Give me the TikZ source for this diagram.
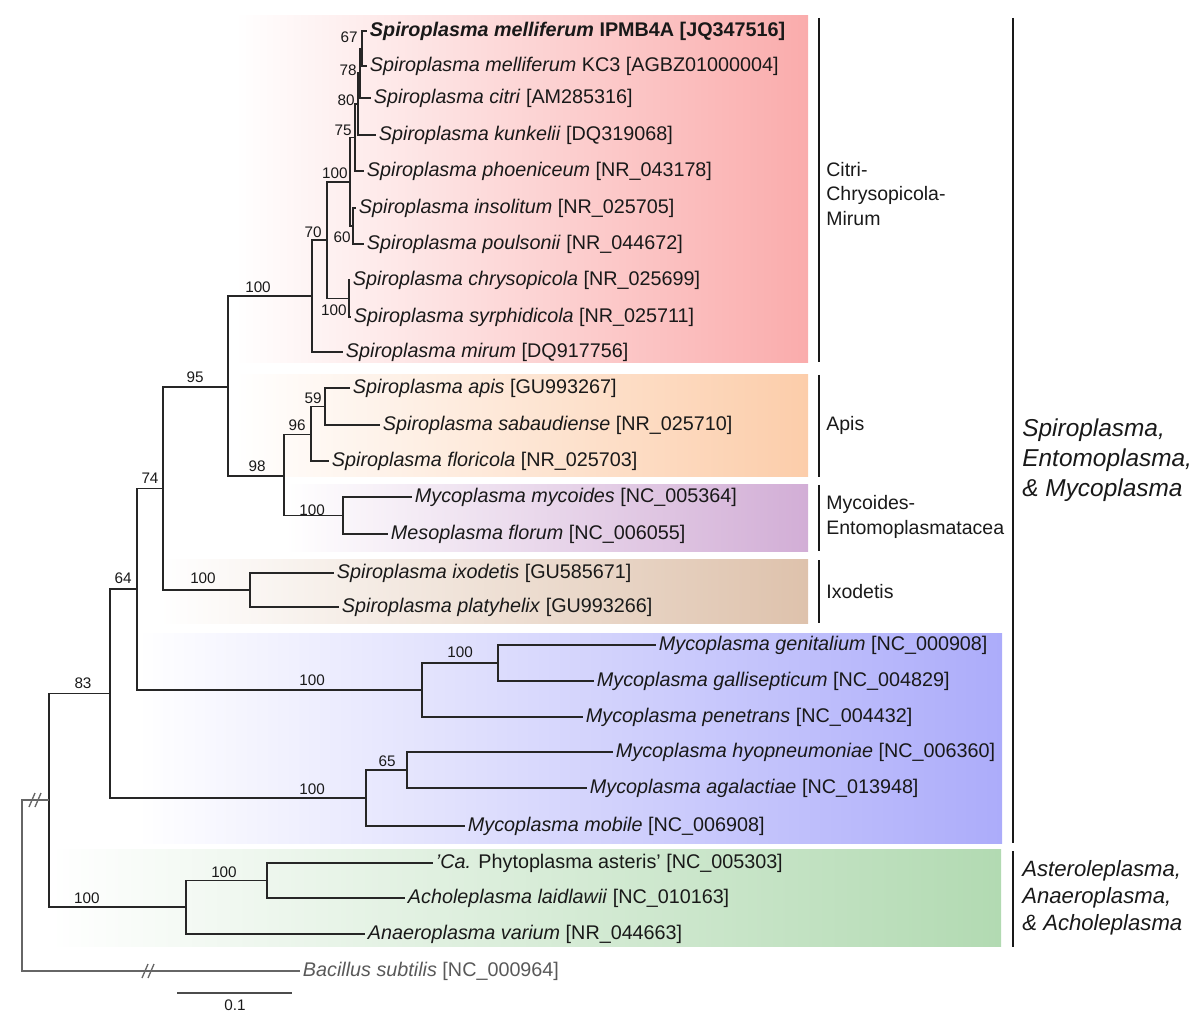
\documentclass[tikz,border=0pt]{standalone}
\usepackage{fontspec}
\setmainfont{Liberation Sans}
\usetikzlibrary{positioning}

\definecolor{citribox}{RGB}{250,172,172}
\definecolor{apisbox}{RGB}{252,205,170}
\definecolor{mycobox}{RGB}{210,174,214}
\definecolor{ixodbox}{RGB}{222,194,172}
\definecolor{mollbox}{RGB}{172,172,250}
\definecolor{acholbox}{RGB}{178,218,178}

\begin{document}
\begin{tikzpicture}[x=0.02cm, y=-0.02cm,
    branch/.style={draw=black!85, line width=0.75pt},
    rootline/.style={draw=black!60, line width=0.75pt},
    taxon/.style={anchor=west, inner sep=1.5pt, text=black!90, font=\fontsize{11.25}{13}\selectfont},
    boot/.style={inner sep=0pt, text=black!90, font=\fontsize{8.7}{10}\selectfont},
    clade/.style={anchor=west, align=left, inner sep=0pt, text=black!90, font=\fontsize{11.1}{14}\selectfont},
    group/.style={anchor=west, align=left, inner sep=0pt, text=black!90, font=\fontsize{13.9}{17}\selectfont\itshape},
    bar/.style={draw=black!90, line width=1.1pt}]

    \useasboundingbox (0,0) rectangle (1200,1033);

    % SHADED CLADE BOXES
    \shade[left color=white, right color=citribox] (235,16) rectangle (808,363);
    \shade[left color=white, right color=apisbox] (235,375) rectangle (808,477);
    \shade[left color=white, right color=mycobox] (285,485) rectangle (808,551);
    \shade[left color=white, right color=ixodbox] (160,559) rectangle (808,623);
    \shade[left color=white, right color=mollbox] (137,633) rectangle (1002,843);
    \shade[left color=white, right color=acholbox] (50,849) rectangle (1001,946);

    % Clade bars
    \draw[bar] (819,18) -- (819,362);
    \draw[bar] (819,375) -- (819,477);
    \draw[bar] (819,485) -- (819,551);
    \draw[bar] (819,560) -- (819,623);
    \draw[bar, line width=1.4pt] (1013,18) -- (1013,843);
    \draw[bar, line width=1.4pt] (1013,851) -- (1013,947);

    \node[clade] (citrilab) at (826,194) {Citri-\\Chrysopicola-\\Mirum};
    \node[clade] (apislab) at (826,425) {Apis};
    \node[clade] (mycolab) at (826,517) {Mycoides-\\Entomoplasmatacea};
    \node[clade] (ixodlab) at (826,592) {Ixodetis};
    \node[group] (spirlab) at (1022,460) {Spiroplasma,\\Entomoplasma,\\\& Mycoplasma};
    \node[group, font=\fontsize{12.6}{15.3}\selectfont\itshape] (acholab) at (1022,898) {Asteroleplasma,\\Anaeroplasma,\\\& Acholeplasma};

    % TAXA
    \node[taxon] (mell) at (367,31) {\textbf{\textit{Spiroplasma melliferum} IPMB4A [JQ347516]}};
    \node[taxon] (kc3) at (367,66) {\textit{Spiroplasma melliferum} KC3 [AGBZ01000004]};
    \node[taxon] (citri) at (371,98) {\textit{Spiroplasma citri} [AM285316]};
    \node[taxon] (kunk) at (376,135) {\textit{Spiroplasma kunkelii} [DQ319068]};
    \node[taxon] (phoe) at (364,171) {\textit{Spiroplasma phoeniceum} [NR\_043178]};
    \node[taxon] (inso) at (356,208) {\textit{Spiroplasma insolitum} [NR\_025705]};
    \node[taxon] (poul) at (364,244) {\textit{Spiroplasma poulsonii} [NR\_044672]};
    \node[taxon] (chry) at (350,280) {\textit{Spiroplasma chrysopicola} [NR\_025699]};
    \node[taxon] (syrp) at (351,317) {\textit{Spiroplasma syrphidicola} [NR\_025711]};
    \node[taxon] (miru) at (343,352) {\textit{Spiroplasma mirum} [DQ917756]};
    \node[taxon] (apis) at (350,388) {\textit{Spiroplasma apis} [GU993267]};
    \node[taxon] (saba) at (380,425) {\textit{Spiroplasma sabaudiense} [NR\_025710]};
    \node[taxon] (flor) at (329,461) {\textit{Spiroplasma floricola} [NR\_025703]};
    \node[taxon] (mmyc) at (412,497) {\textit{Mycoplasma mycoides} [NC\_005364]};
    \node[taxon] (mflo) at (388,534) {\textit{Mesoplasma florum} [NC\_006055]};
    \node[taxon] (ixod) at (334,573) {\textit{Spiroplasma ixodetis} [GU585671]};
    \node[taxon] (plat) at (339,607) {\textit{Spiroplasma platyhelix} [GU993266]};
    \node[taxon] (geni) at (656,645) {\textit{Mycoplasma genitalium} [NC\_000908]};
    \node[taxon] (gall) at (594,681) {\textit{Mycoplasma gallisepticum} [NC\_004829]};
    \node[taxon] (pene) at (583,717) {\textit{Mycoplasma penetrans} [NC\_004432]};
    \node[taxon] (hyop) at (613,752) {\textit{Mycoplasma hyopneumoniae} [NC\_006360]};
    \node[taxon] (agal) at (587,788) {\textit{Mycoplasma agalactiae} [NC\_013948]};
    \node[taxon] (mobi) at (465,826) {\textit{Mycoplasma mobile} [NC\_006908]};
    \node[taxon] (phyt) at (433,863) {\textit{'Ca.} Phytoplasma asteris' [NC\_005303]};
    \node[taxon] (acho) at (405,898) {\textit{Acholeplasma laidlawii} [NC\_010163]};
    \node[taxon] (anae) at (365,934) {\textit{Anaeroplasma varium} [NR\_044663]};
    \node[taxon, text=black!65] (bsub) at (300,971) {\textit{Bacillus subtilis} [NC\_000964]};

    % Internal nodes
    \coordinate (n67) at (362,48.5);
    \coordinate (n78) at (360,73);
    \coordinate (n80) at (358,104);
    \coordinate (n75) at (355,137.5);
    \coordinate (n60) at (353,226);
    \coordinate (n100a) at (350,182);
    \coordinate (n100b) at (349,298.5);
    \coordinate (n70) at (327,240);
    \coordinate (n100c) at (312,296);
    \coordinate (n59) at (325,406.5);
    \coordinate (n96) at (311,434.5);
    \coordinate (n100d) at (343,515.5);
    \coordinate (n98) at (284,476);
    \coordinate (n95) at (228,387);
    \coordinate (n100e) at (250,590);
    \coordinate (n74) at (163,488.5);
    \coordinate (n100f) at (498,663);
    \coordinate (n100g) at (422,690);
    \coordinate (n64) at (137,589);
    \coordinate (n65) at (407,770);
    \coordinate (n100h) at (366,798);
    \coordinate (n83) at (110,693.5);
    \coordinate (n100i) at (267,880.5);
    \coordinate (n100j) at (186,907);
    \coordinate (nin) at (49,800);
    \coordinate (root) at (22,885.5);

    % Branches
    \draw[branch] (n67) |- (mell.west) (n67) |- (kc3.west)
        (n78) |- (n67) (n78) |- (citri.west)
        (n80) |- (n78) (n80) |- (kunk.west)
        (n75) |- (n80) (n75) |- (phoe.west)
        (n60) |- (inso.west) (n60) |- (poul.west)
        (n100a) |- (n75) (n100a) |- (n60)
        (n100b) |- (chry.west) (n100b) |- (syrp.west)
        (n70) |- (n100a) (n70) |- (n100b)
        (n100c) |- (n70) (n100c) |- (miru.west)
        (n59) |- (apis.west) (n59) |- (saba.west)
        (n96) |- (n59) (n96) |- (flor.west)
        (n100d) |- (mmyc.west) (n100d) |- (mflo.west)
        (n98) |- (n96) (n98) |- (n100d)
        (n95) |- (n100c) (n95) |- (n98)
        (n100e) |- (ixod.west) (n100e) |- (plat.west)
        (n74) |- (n95) (n74) |- (n100e)
        (n100f) |- (geni.west) (n100f) |- (gall.west)
        (n100g) |- (n100f) (n100g) |- (pene.west)
        (n64) |- (n74) (n64) |- (n100g)
        (n65) |- (hyop.west) (n65) |- (agal.west)
        (n100h) |- (n65) (n100h) |- (mobi.west)
        (n83) |- (n64) (n83) |- (n100h)
        (n100i) |- (phyt.west) (n100i) |- (acho.west)
        (n100j) |- (n100i) (n100j) |- (anae.west)
        (nin) |- (n83) (nin) |- (n100j);
    \draw[rootline] (root) |- (nin) (root) |- (bsub.west);

    % Broken branch marks
    \coordinate (brk1) at (35,800);
    \coordinate (brk2) at (148,971);
    \foreach \b in {brk1,brk2}
        \foreach \dx in {-3,3}
            \draw[rootline] ([shift={(\dx-3,7)}]\b) -- ([shift={(\dx+3,-7)}]\b);

    % Bootstrap values
    \node[boot, anchor=east] (b67) at (358,37) {67};
    \node[boot, anchor=east] (b78) at (357,70) {78};
    \node[boot, anchor=east] (b80) at (355,100) {80};
    \node[boot, anchor=east] (b75) at (352,130) {75};
    \node[boot, anchor=east] (b100a) at (348,173) {100};
    \node[boot, anchor=east] (b60) at (351,237) {60};
    \node[boot, anchor=east] (b70) at (322,232) {70};
    \node[boot, anchor=east] (b100b) at (347,310) {100};
    \node[boot] (b100c) at (258,287) {100};
    \node[boot] (b95) at (195,377) {95};
    \node[boot] (b59) at (313,398) {59};
    \node[boot] (b96) at (297,425) {96};
    \node[boot] (b98) at (257,466) {98};
    \node[boot] (b100d) at (312,510) {100};
    \node[boot] (b74) at (150,478) {74};
    \node[boot] (b100e) at (203,578) {100};
    \node[boot] (b64) at (123,578) {64};
    \node[boot] (b83) at (83,683) {83};
    \node[boot] (b100g) at (312,680) {100};
    \node[boot] (b100f) at (460,652) {100};
    \node[boot] (b65) at (387,761) {65};
    \node[boot] (b100h) at (312,789) {100};
    \node[boot] (b100j) at (87,898) {100};
    \node[boot] (b100i) at (224,872) {100};

    % Scale bar
    \coordinate (sbl) at (177,993);
    \coordinate (sbr) at (292,993);
    \draw[rootline, draw=black!70] (sbl) -- (sbr);
    \node[boot] (sblab) at (235,1005) {0.1};
\end{tikzpicture}
\end{document}
